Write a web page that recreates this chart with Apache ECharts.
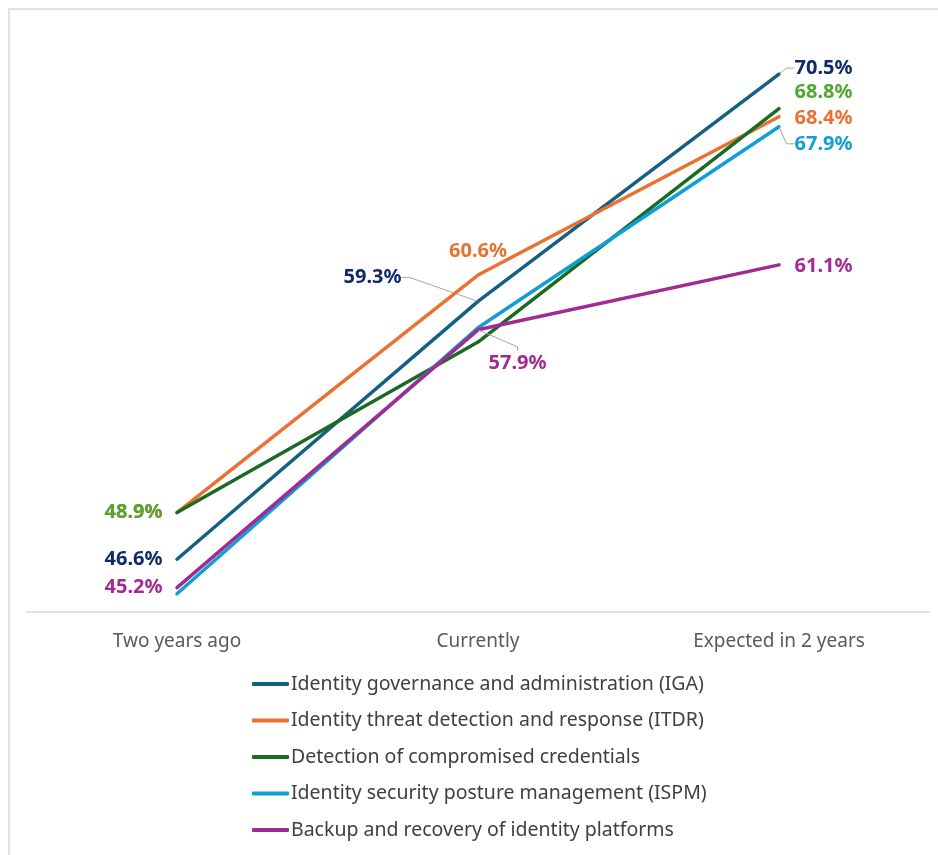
<!DOCTYPE html>
<html>
<head>
<meta charset="utf-8">
<script src="https://cdn.jsdelivr.net/npm/echarts@6/dist/echarts.min.js"></script>
<style>
  html, body { margin: 0; padding: 0; background: #ffffff; }
  #chart { width: 938px; height: 855px; }
</style>
</head>
<body>
<div id="chart"></div>
<script>
// Periods on the category axis
const periods = ['Two years ago', 'Currently', 'Expected in 2 years'];

// Share of organisations (%) per capability and period
const igaValues        = [46.6, 59.3, 70.5];
const itdrValues       = [48.9, 60.6, 68.4];
const credentialValues = [48.9, 57.3, 68.8];
const ispmValues       = [44.9, 58.0, 67.9];
const backupValues     = [45.2, 57.9, 61.1];

const seriesNames = [
  'Identity governance and administration (IGA)',
  'Identity threat detection and response (ITDR)',
  'Detection of compromised credentials',
  'Identity security posture management (ISPM)',
  'Backup and recovery of identity platforms'
];
const seriesValues = [igaValues, itdrValues, credentialValues, ispmValues, backupValues];

const lineColors  = ['#156082', '#E97132', '#196B24', '#0F9ED5', '#A02B93'];
const labelColors = ['#0E2A6B', '#E97132', '#4EA72E', '#0F9ED5', '#A02B93'];

// Where each value label sits: side of the point, nudge, guide line, empty space under the text
const labelPlacement = [
  [{ pos: 'left' }, { pos: 'left', dx: -62, dy: -24, guide: true }, { pos: 'right', dx: 4, dy: -6, guide: true }],
  [{ pos: 'left' }, { pos: 'top', dx: 0, dy: -6 },                  { pos: 'right', dx: 4, dy: 2 }],
  [{ pos: 'left' }, null,                                            { pos: 'right', dx: 4, dy: -16 }],
  [null,            null,                                            { pos: 'right', dx: 4, dy: 17, guide: true }],
  [{ pos: 'left' }, { pos: 'right', dx: -1, dy: 53, guide: true, spacer: 40, guideLen: 4 }, { pos: 'right', dx: 4, dy: 1 }]
];

const labelFont = { fontFamily: '"Noto Sans", "Liberation Sans", sans-serif', fontWeight: 'bold', fontSize: 20 };

function pct(v) { return v.toFixed(1) + '%'; }

const series = seriesValues.map(function (values, s) {
  return {
    name: seriesNames[s],
    type: 'line',
    z: 2 + s,
    showSymbol: true,
    symbol: 'circle',
    symbolSize: 1,
    itemStyle: { color: lineColors[s] },
    lineStyle: { color: lineColors[s], width: 3.5, cap: 'round', join: 'round' },
    emphasis: { disabled: true },
    labelLine: { show: false, length2: 8, lineStyle: { color: '#a6a6a6', width: 1 } },
    labelLayout: function (params) {
      const p = labelPlacement[s][params.dataIndex];
      return p ? { dx: p.dx || 0, dy: p.dy || 0 } : {};
    },
    data: values.map(function (v, i) {
      const p = labelPlacement[s][i];
      let label = { show: false };
      if (p) {
        label = Object.assign({
          show: true,
          position: p.pos,
          distance: p.pos === 'left' ? 8 : 5,
          padding: [2, 6],
          color: labelColors[s],
          formatter: function (d) { return pct(d.value); }
        }, labelFont);
        if (p.spacer) {
          // text on top of an empty box, so the guide meets the label from above
          label.backgroundColor = 'rgba(255,255,255,0)';
          label.formatter = function (d) { return '{v|' + pct(d.value) + '}\n{gap| }'; };
          label.rich = {
            v: Object.assign({ color: labelColors[s] }, labelFont),
            gap: { height: p.spacer, fontSize: 1 }
          };
        }
      }
      return {
        value: v,
        label: label,
        labelLine: p && p.guide
          ? { show: true, length2: p.guideLen != null ? p.guideLen : 8 }
          : { show: false }
      };
    })
  };
});

const chart = echarts.init(document.getElementById('chart'), null, { renderer: 'canvas' });
chart.setOption({
  animation: false,
  backgroundColor: '#ffffff',
  graphic: [{
    type: 'rect',
    left: 6.5, top: 6.5,
    shape: { width: 960, height: 880 },
    style: { fill: 'none', stroke: '#d9d9d9', lineWidth: 1.5 },
    silent: true,
    z: -10
  }],
  grid: { left: 26.5, right: 8.5, top: 43.6, bottom: 243 },
  xAxis: {
    type: 'category',
    data: periods,
    boundaryGap: true,
    axisTick: { show: false },
    axisLine: { lineStyle: { color: '#d9d9d9', width: 1.5 } },
    axisLabel: {
      margin: 20,
      color: '#595959',
      fontSize: 19,
      fontFamily: '"Noto Sans", sans-serif'
    }
  },
  yAxis: {
    type: 'value',
    min: 44, max: 72, interval: 4,
    show: false,
    splitLine: { show: false }
  },
  legend: {
    orient: 'vertical',
    left: 252,
    top: 672,
    padding: 0,
    icon: 'roundRect',
    itemWidth: 37,
    itemHeight: 4,
    itemGap: 12.5,
    selectedMode: false,
    textStyle: {
      color: '#404040',
      fontSize: 19.5,
      lineHeight: 24,
      padding: [0, 0, 0, -3],
      fontFamily: '"Noto Sans", sans-serif'
    },
    data: seriesNames
  },
  series: series
});
</script>
</body>
</html>
